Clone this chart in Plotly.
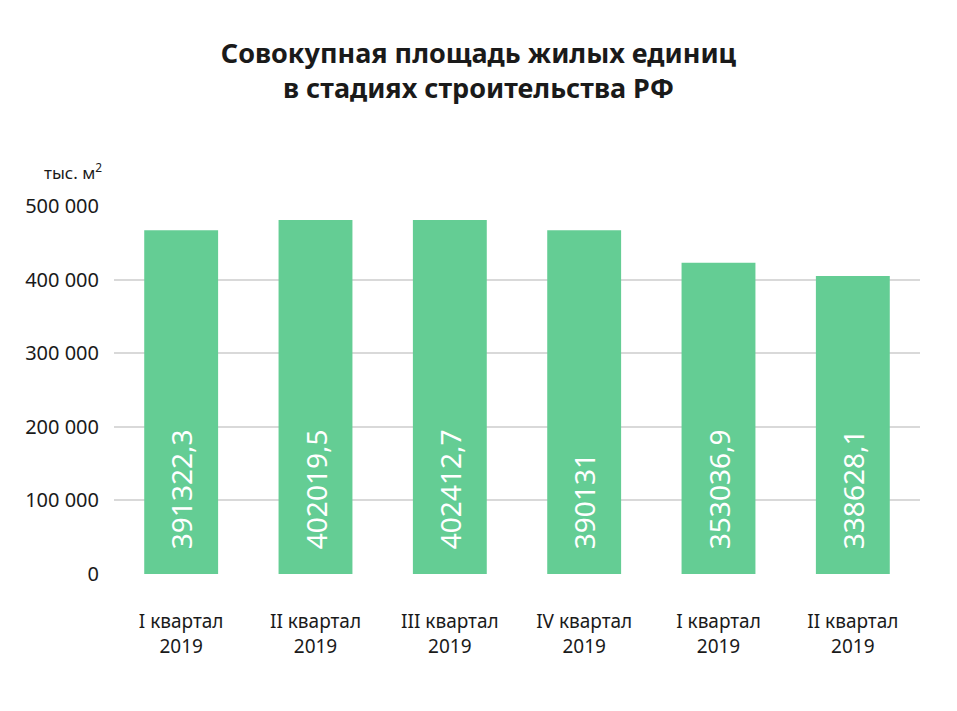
import plotly.graph_objects as go

# quarters on the x axis
categories = [
    "I квартал<br>2019",
    "II квартал<br>2019",
    "III квартал<br>2019",
    "IV квартал<br>2019",
    "I квартал<br>2019",
    "II квартал<br>2019",
]
# bar heights as they stand against the axis in the picture
bar_heights = [467000, 481000, 481000, 467000, 423000, 405000]
# values printed inside the bars
value_labels = ["391322,3", "402019,5", "402412,7", "390131", "353036,9", "338628,1"]

y_ticks = [0, 100000, 200000, 300000, 400000, 500000]
y_tick_text = ["0", "100 000", "200 000", "300 000", "400 000", "500 000"]

FONT = "Noto Sans"
GREEN = "#64cd94"
INK = "#1a1a1a"

# nbsp padding lifts the rotated label off the bar base
pad = "\u00a0" * 3
fig = go.Figure(
    go.Bar(
        x=list(range(len(categories))),
        y=bar_heights,
        marker=dict(color=GREEN, line=dict(width=0)),
        text=[pad + s for s in value_labels],
        textposition="inside",
        insidetextanchor="start",
        textangle=-90,
        insidetextfont=dict(family=FONT, size=28, color="white"),
        hoverinfo="skip",
    )
)

# page body adds an 8px offset, so the figure is 16px smaller than the window
fig.update_layout(
    width=941,
    height=695,
    paper_bgcolor="white",
    plot_bgcolor="white",
    showlegend=False,
    bargap=0.45,
    margin=dict(l=106, r=29, t=198, b=129),
    font=dict(family=FONT, color=INK),
    title=dict(
        text="<b>Совокупная площадь жилых единиц<br>в стадиях строительства РФ</b>",
        x=0.5,
        xanchor="center",
        y=0.921,
        yanchor="top",
        font=dict(family=FONT, size=27, color=INK),
    ),
    xaxis=dict(
        tickmode="array",
        tickvals=list(range(len(categories))),
        ticktext=categories,
        range=[-0.5, len(categories) - 0.5],
        showgrid=False,
        zeroline=False,
        showline=False,
        ticks="outside",
        ticklen=30,
        tickcolor="rgba(0,0,0,0)",
        tickfont=dict(family=FONT, size=19, color=INK),
    ),
    yaxis=dict(
        range=[0, 500000],
        tickmode="array",
        tickvals=y_ticks,
        ticktext=y_tick_text,
        showgrid=True,
        gridcolor="#d9d9d9",
        gridwidth=2,
        zeroline=False,
        showline=False,
        ticks="outside",
        ticklen=10,
        tickcolor="rgba(0,0,0,0)",
        tickfont=dict(family=FONT, size=20, color=INK),
    ),
    annotations=[
        dict(
            text="тыс. м<sup>2</sup>",
            xref="paper",
            yref="paper",
            x=-0.012,
            y=1.0,
            xanchor="right",
            yanchor="bottom",
            yshift=20,
            showarrow=False,
            font=dict(family=FONT, size=17, color=INK),
        )
    ],
)

fig.write_html("out.html")
